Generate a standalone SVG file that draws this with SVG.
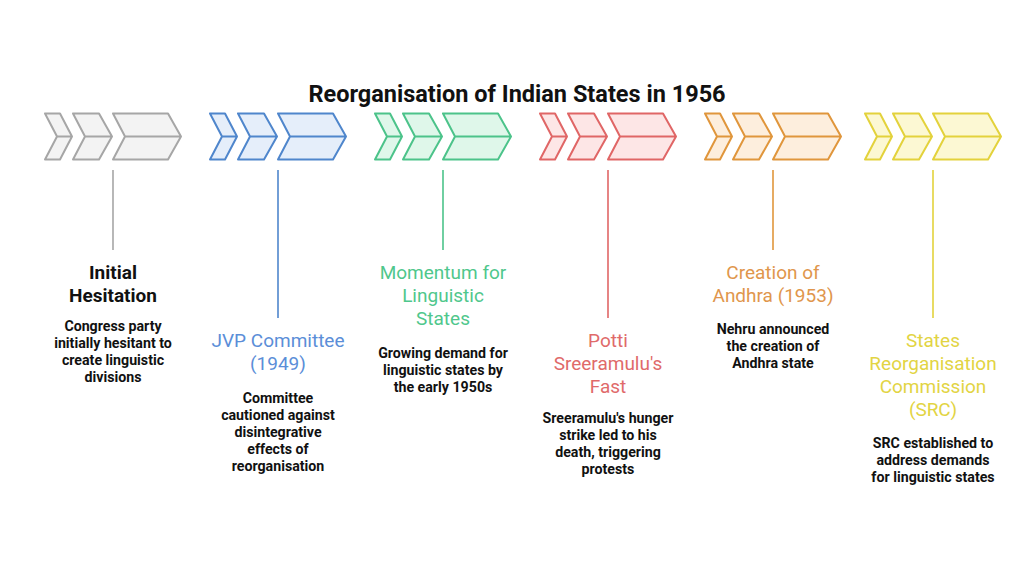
<svg xmlns="http://www.w3.org/2000/svg" width="1024" height="569" viewBox="0 0 1024 569">
<style>
text{font-family:Roboto,"Liberation Sans",sans-serif;text-anchor:middle}
.title{font-size:23.5px;font-weight:700;fill:#111}
.h{font-size:19px}
.b{font-size:14.2px;font-weight:700;fill:#111}
.ch{stroke-width:2;stroke-linejoin:round}
.ln{stroke-width:1.6;fill:none}
.gray use{stroke:#a6a6a6;fill:#f3f3f3}
.blue use{stroke:#4f86cc;fill:#e5eefa}.blue .h{fill:#5b8ed8}
.green use{stroke:#4cc38a;fill:#dff7ea}.green .h{fill:#4fc78c}
.red use{stroke:#e06666;fill:#fde6e6}.red .h{fill:#e06a6a}
.orange use{stroke:#e0963c;fill:#fdeedd}.orange .h{fill:#e0964c}
.yellow use{stroke:#e3d23c;fill:#fcf8d3}.yellow .h{fill:#e2d443}
</style>
<defs>
<g id="chev">
<path class="ch" d="M0,0H15L27,23L15,46H0L12,23ZM12,23H27"/>
<path class="ch" d="M28,0H54L67,23L54,46H28L40,23ZM40,23H67"/>
<path class="ch" d="M68,0H123L136,23L123,46H68L80,23ZM80,23H136"/>
</g>
</defs>
<rect width="1024" height="569" fill="#fff"/>
<text class="title" x="517" y="102">Reorganisation of Indian States in 1956</text>

<g id="connectors">
<line class="ln" x1="113" y1="170" x2="113" y2="250" stroke="#a6a6a6"/>
<line class="ln" x1="278" y1="170" x2="278" y2="318" stroke="#4f86cc"/>
<line class="ln" x1="443" y1="170" x2="443" y2="250" stroke="#4cc38a"/>
<line class="ln" x1="608" y1="170" x2="608" y2="318" stroke="#e06666"/>
<line class="ln" x1="773" y1="170" x2="773" y2="250" stroke="#e0963c"/>
<line class="ln" x1="933" y1="170" x2="933" y2="318" stroke="#e3d23c"/>
</g>

<g id="initial-hesitation" class="gray">
<use href="#chev" transform="translate(45,113.5)"/>
<text class="h" x="113" y="279" font-weight="700" fill="#111">Initial</text>
<text class="h" x="113" y="302" font-weight="700" fill="#111">Hesitation</text>
<text class="b" x="113" y="331">Congress party</text>
<text class="b" x="113" y="348">initially hesitant to</text>
<text class="b" x="113" y="365">create linguistic</text>
<text class="b" x="113" y="382">divisions</text>
</g>

<g id="jvp-committee" class="blue">
<use href="#chev" transform="translate(210,113.5)"/>
<text class="h" x="278" y="347">JVP Committee</text>
<text class="h" x="278" y="370">(1949)</text>
<text class="b" x="278" y="403">Committee</text>
<text class="b" x="278" y="420">cautioned against</text>
<text class="b" x="278" y="437">disintegrative</text>
<text class="b" x="278" y="454">effects of</text>
<text class="b" x="278" y="471">reorganisation</text>
</g>

<g id="momentum" class="green">
<use href="#chev" transform="translate(375,113.5)"/>
<text class="h" x="443" y="279">Momentum for</text>
<text class="h" x="443" y="302">Linguistic</text>
<text class="h" x="443" y="325">States</text>
<text class="b" x="443" y="358">Growing demand for</text>
<text class="b" x="443" y="375">linguistic states by</text>
<text class="b" x="443" y="392">the early 1950s</text>
</g>

<g id="potti-fast" class="red">
<use href="#chev" transform="translate(540,113.5)"/>
<text class="h" x="608" y="347">Potti</text>
<text class="h" x="608" y="370">Sreeramulu's</text>
<text class="h" x="608" y="393">Fast</text>
<text class="b" x="608" y="423">Sreeramulu's hunger</text>
<text class="b" x="608" y="440">strike led to his</text>
<text class="b" x="608" y="457">death, triggering</text>
<text class="b" x="608" y="474">protests</text>
</g>

<g id="creation-andhra" class="orange">
<use href="#chev" transform="translate(705,113.5)"/>
<text class="h" x="773" y="279">Creation of</text>
<text class="h" x="773" y="302">Andhra (1953)</text>
<text class="b" x="773" y="334">Nehru announced</text>
<text class="b" x="773" y="351">the creation of</text>
<text class="b" x="773" y="368">Andhra state</text>
</g>

<g id="src" class="yellow">
<use href="#chev" transform="translate(865,113.5)"/>
<text class="h" x="933" y="347">States</text>
<text class="h" x="933" y="370">Reorganisation</text>
<text class="h" x="933" y="393">Commission</text>
<text class="h" x="933" y="416">(SRC)</text>
<text class="b" x="933" y="448">SRC established to</text>
<text class="b" x="933" y="465">address demands</text>
<text class="b" x="933" y="482">for linguistic states</text>
</g>
</svg>
